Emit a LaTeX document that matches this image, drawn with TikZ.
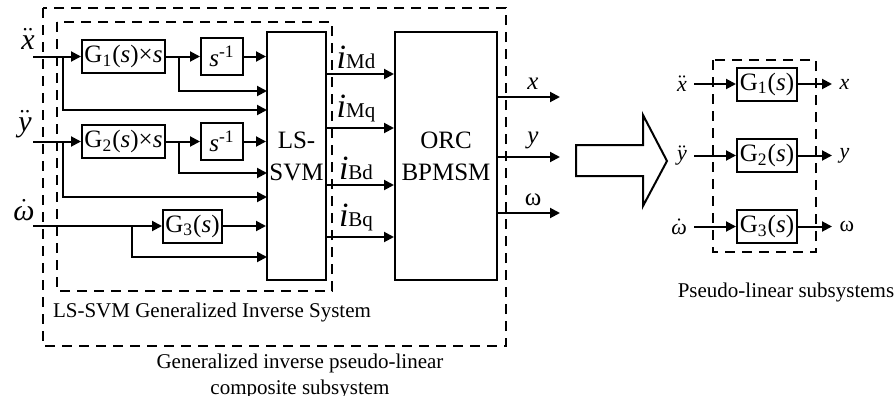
\documentclass[tikz,border=0pt]{standalone}
\usepackage{fontspec}
\setmainfont{Liberation Serif}
\usetikzlibrary{arrows.meta,calc}

\begin{document}
\begin{tikzpicture}[x=0.5pt,y=-0.5pt,>={Triangle[length=5pt,width=5pt]},line join=miter,
  blk/.style 2 args={draw,line width=1pt,minimum width=#1,minimum height=#2,inner sep=0pt,align=center,font=\fontsize{12.5}{16}\selectfont},
  sig/.style={->,line width=1pt},
  frame/.style={line width=1pt,dash pattern=on 5pt off 3.5pt},
  inlab/.style={font=\fontsize{15}{15}\selectfont},
  outlab/.style={font=\fontsize{12.5}{12.5}\selectfont},
  rlab/.style={font=\fontsize{11}{11}\selectfont},
  captxt/.style={font=\fontsize{10.5}{13}\selectfont,align=center}]
  \useasboundingbox (0,0) rectangle (896,396);

  \draw[frame] (43,8) rectangle (506,346);
  \draw[frame] (57,22) rectangle (332,291);

  \node[blk={41.5pt}{16.5pt}] (G1) at (123.5,56.5) {G\textsubscript{1}(\textit{s})×\textit{s}};
  \node[blk={21pt}{18.5pt}] (S1) at (222,56.5) {\textit{s}\textsuperscript{-1}};
  \node[blk={41.5pt}{16.5pt}] (G2) at (123.5,141.5) {G\textsubscript{2}(\textit{s})×\textit{s}};
  \node[blk={21pt}{18.5pt}] (S2) at (222,141.5) {\textit{s}\textsuperscript{-1}};
  \node[blk={29.5pt}{16.5pt}] (G3) at (192.5,226) {G\textsubscript{3}(\textit{s})};
  \node[blk={29.5pt}{124pt}] (L) at (296.5,156) {LS-\\SVM};
  \node[blk={51pt}{124pt}] (O) at (446,156) {ORC\\BPMSM};

  \coordinate (xin) at (33,56.5);
  \coordinate (yin) at (33,141.5);
  \coordinate (win) at (33,226);
  \coordinate (jx) at (63,56.5);
  \coordinate (jy) at (63,141.5);
  \coordinate (jw) at (132,226);
  \coordinate (j1) at (179,56.5);
  \coordinate (j2) at (179,141.5);
  \coordinate (r2) at (267,91);
  \coordinate (r3) at (267,110);
  \coordinate (r5) at (267,173);
  \coordinate (r6) at (267,197);
  \coordinate (r8) at (267,257);

  \node[inlab] (lx) at (28,39) {$\ddot{\textit{x}}$};
  \node[inlab] (ly) at (25,124) {$\ddot{\textit{y}}$};
  \node[inlab] (lw) at (24,210) {$\dot{\textit{ω}}$};

  \draw[sig] (xin) -- (G1);
  \draw[sig] (G1) -- (S1);
  \draw[sig] (S1) -- (L.west |- S1);
  \draw[sig] (j1) |- (r2);
  \draw[sig] (jx) |- (r3);
  \draw[sig] (yin) -- (G2);
  \draw[sig] (G2) -- (S2);
  \draw[sig] (S2) -- (L.west |- S2);
  \draw[sig] (j2) |- (r5);
  \draw[sig] (jy) |- (r6);
  \draw[sig] (win) -- (G3);
  \draw[sig] (G3) -- (L.west |- G3);
  \draw[sig] (jw) |- (r8);

  \coordinate (iMd) at (326,74);
  \coordinate (iMq) at (326,128);
  \coordinate (iBd) at (326,185);
  \coordinate (iBq) at (326,237);
  \draw[sig] (iMd) -- node[above=-1pt,xshift=-2pt] (liMd) {\fontsize{17}{17}\selectfont\textit{i}\fontsize{10.5}{10.5}\selectfont Md} (O.west |- iMd);
  \draw[sig] (iMq) -- node[above=-1pt,xshift=-2pt] (liMq) {\fontsize{17}{17}\selectfont\textit{i}\fontsize{10.5}{10.5}\selectfont Mq} (O.west |- iMq);
  \draw[sig] (iBd) -- node[above=-1pt,xshift=-2pt] (liBd) {\fontsize{17}{17}\selectfont\textit{i}\fontsize{10.5}{10.5}\selectfont Bd} (O.west |- iBd);
  \draw[sig] (iBq) -- node[above=-1pt,xshift=-2pt] (liBq) {\fontsize{17}{17}\selectfont\textit{i}\fontsize{10.5}{10.5}\selectfont Bq} (O.west |- iBq);

  \coordinate (ox) at (560,97);
  \coordinate (oy) at (560,157);
  \coordinate (ow) at (560,213);
  \draw[sig] (O.east |- ox) -- node[outlab,above,xshift=2pt] (lox) {\textit{x}} (ox);
  \draw[sig] (O.east |- oy) -- node[outlab,above,xshift=2pt] (loy) {\textit{y}} (oy);
  \draw[sig] (O.east |- ow) -- node[outlab,above,xshift=2pt] (low) {ω} (ow);

  \node[captxt,anchor=west] (capL) at (46,312) {LS-SVM Generalized Inverse System};
  \node[captxt] (capC) at (300,376) {Generalized inverse pseudo-linear\\composite subsystem};

  \draw[line width=1pt] (576,145) -- (643,145) -- (643,115) -- (667,161) -- (643,206) -- (643,176) -- (576,176) -- cycle;

  \draw[frame] (713,60) rectangle (816,252);
  \node[blk={30pt}{16.5pt}] (R1) at (767,84) {G\textsubscript{1}(\textit{s})};
  \node[blk={30pt}{16.5pt}] (R2) at (767,155.5) {G\textsubscript{2}(\textit{s})};
  \node[blk={30pt}{16.5pt}] (R3) at (767,226.5) {G\textsubscript{3}(\textit{s})};
  \coordinate (rxin) at (694,84);
  \coordinate (ryin) at (694,155.5);
  \coordinate (rwin) at (694,226.5);
  \coordinate (rxout) at (832,84);
  \coordinate (ryout) at (832,155.5);
  \coordinate (rwout) at (832,226.5);
  \node[rlab,anchor=east] (rlx) at (rxin) {$\ddot{\textit{x}}$};
  \node[rlab,anchor=east] (rly) at (ryin) {$\ddot{\textit{y}}$};
  \node[rlab,anchor=east] (rlw) at (rwin) {$\dot{\textit{ω}}$};
  \draw[sig] (rxin) -- (R1);
  \draw[sig] (ryin) -- (R2);
  \draw[sig] (rwin) -- (R3);
  \draw[sig] (R1) -- (rxout) node[rlab,anchor=west] (rlox) {\textit{x}};
  \draw[sig] (R2) -- (ryout) node[rlab,anchor=west] (rloy) {\textit{y}};
  \draw[sig] (R3) -- (rwout) node[rlab,anchor=west] (rlow) {ω};
  \node[captxt] (capR) at (786,292) {Pseudo-linear subsystems};
\end{tikzpicture}
\end{document}
